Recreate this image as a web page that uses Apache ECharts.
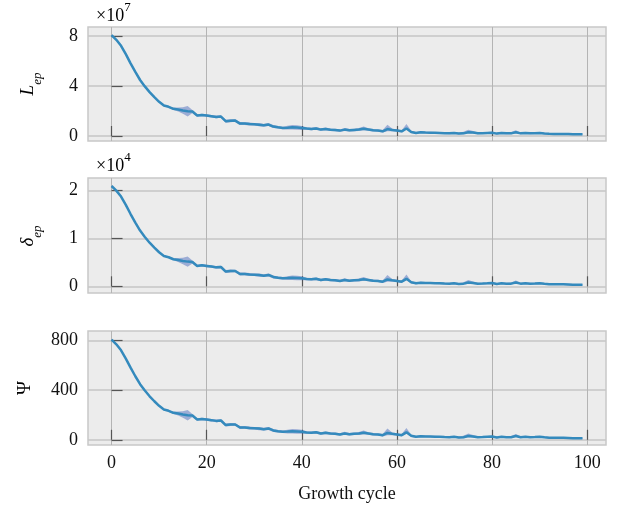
<!DOCTYPE html>
<html><head><meta charset="utf-8">
<script src="https://cdn.jsdelivr.net/npm/echarts@6/dist/echarts.min.js"></script>
<style>html,body{margin:0;padding:0;background:#fff}#c{width:622px;height:506px}</style>
</head><body><div id="c"></div>
<script>
// x values: growth cycle index
const cycles = Array.from({length: 100}, (_, i) => i);
const xTicks = [0, 20, 40, 60, 80, 100];

// L_ep (units of 1e7)
const lepMean = [8.05,7.68,7.20,6.53,5.80,5.11,4.47,3.96,3.50,3.10,2.73,2.43,2.33,2.17,2.11,2.03,1.98,1.95,1.63,1.68,
1.63,1.58,1.52,1.55,1.18,1.22,1.23,0.99,0.99,0.95,0.93,0.90,0.85,0.91,0.75,0.69,0.64,0.66,0.69,0.67,
0.64,0.59,0.56,0.60,0.51,0.56,0.50,0.48,0.43,0.51,0.45,0.48,0.51,0.57,0.51,0.45,0.43,0.37,0.55,0.48,
0.43,0.37,0.60,0.32,0.24,0.29,0.27,0.26,0.25,0.24,0.22,0.21,0.24,0.19,0.21,0.30,0.27,0.21,0.22,0.24,
0.26,0.19,0.24,0.21,0.21,0.30,0.21,0.24,0.21,0.22,0.24,0.20,0.17,0.16,0.16,0.16,0.15,0.13,0.13,0.13];
const lepDown = [0.03,0.04,0.04,0.04,0.04,0.04,0.04,0.04,0.04,0.05,0.05,
0.06,0.07,0.09,0.16,0.26,0.42,0.12,0.09,0.10,
0.10,0.10,0.11,0.10,0.12,0.12,0.10,0.12,0.11,0.12,
0.10,0.13,0.11,0.12,0.12,0.10,0.10,0.15,0.18,0.18,
0.16,0.10,0.10,0.11,0.10,0.11,0.10,0.10,0.09,0.11,
0.10,0.10,0.12,0.12,0.10,0.10,0.09,0.10,0.18,0.11,
0.09,0.09,0.09,0.09,0.07,0.08,0.07,0.07,0.07,0.07,
0.07,0.07,0.07,0.07,0.08,0.09,0.08,0.07,0.07,0.07,
0.07,0.07,0.07,0.07,0.07,0.08,0.07,0.07,0.07,0.07,
0.07,0.06,0.06,0.06,0.06,0.06,0.06,0.06,0.06,0.06];
const lepUp = [0.03,0.04,0.04,0.04,0.04,0.04,0.04,0.04,0.04,0.05,0.05,
0.06,0.07,0.09,0.16,0.26,0.42,0.12,0.09,0.10,
0.10,0.10,0.11,0.10,0.12,0.12,0.10,0.12,0.11,0.12,
0.10,0.13,0.11,0.12,0.12,0.10,0.10,0.15,0.18,0.18,
0.16,0.10,0.10,0.11,0.10,0.11,0.10,0.10,0.09,0.13,
0.10,0.10,0.12,0.18,0.10,0.10,0.09,0.10,0.35,0.11,
0.09,0.09,0.35,0.09,0.07,0.08,0.07,0.07,0.07,0.07,
0.07,0.07,0.07,0.07,0.12,0.20,0.12,0.07,0.07,0.07,
0.07,0.07,0.07,0.07,0.10,0.16,0.07,0.07,0.07,0.07,
0.07,0.06,0.06,0.06,0.06,0.06,0.06,0.06,0.06,0.06];

// delta_ep (units of 1e4)
const depMean = [2.093,1.997,1.872,1.698,1.508,1.329,1.162,1.030,0.910,0.806,0.710,0.632,0.606,0.564,0.549,0.528,0.515,0.507,0.424,0.437,
0.424,0.411,0.395,0.403,0.307,0.317,0.320,0.257,0.257,0.247,0.242,0.234,0.221,0.237,0.195,0.179,0.166,0.172,0.179,0.174,
0.166,0.153,0.146,0.156,0.133,0.146,0.130,0.125,0.112,0.133,0.117,0.125,0.133,0.148,0.133,0.117,0.112,0.096,0.143,0.125,
0.112,0.096,0.156,0.083,0.062,0.075,0.070,0.068,0.065,0.062,0.057,0.055,0.062,0.049,0.055,0.078,0.070,0.055,0.057,0.062,
0.068,0.049,0.062,0.055,0.055,0.078,0.055,0.062,0.055,0.057,0.062,0.052,0.044,0.042,0.042,0.042,0.039,0.034,0.034,0.034];
const depDown = [0.008,0.010,0.010,0.010,0.010,0.010,0.010,0.010,0.010,0.013,0.013,
0.016,0.018,0.023,0.042,0.068,0.109,0.031,0.023,0.026,
0.026,0.026,0.029,0.026,0.031,0.031,0.026,0.031,0.029,0.031,
0.026,0.034,0.029,0.031,0.031,0.026,0.026,0.039,0.047,0.047,
0.042,0.026,0.026,0.029,0.026,0.029,0.026,0.026,0.023,0.029,
0.026,0.026,0.031,0.031,0.026,0.026,0.023,0.026,0.047,0.029,
0.023,0.023,0.023,0.023,0.018,0.021,0.018,0.018,0.018,0.018,
0.018,0.018,0.018,0.018,0.021,0.023,0.021,0.018,0.018,0.018,
0.018,0.018,0.018,0.018,0.018,0.021,0.018,0.018,0.018,0.018,
0.018,0.016,0.016,0.016,0.016,0.016,0.016,0.016,0.016,0.016];
const depUp = [0.008,0.010,0.010,0.010,0.010,0.010,0.010,0.010,0.010,0.013,0.013,
0.016,0.018,0.023,0.042,0.068,0.109,0.031,0.023,0.026,
0.026,0.026,0.029,0.026,0.031,0.031,0.026,0.031,0.029,0.031,
0.026,0.034,0.029,0.031,0.031,0.026,0.026,0.039,0.047,0.047,
0.042,0.026,0.026,0.029,0.026,0.029,0.026,0.026,0.023,0.034,
0.026,0.026,0.031,0.047,0.026,0.026,0.023,0.026,0.091,0.029,
0.023,0.023,0.091,0.023,0.018,0.021,0.018,0.018,0.018,0.018,
0.018,0.018,0.018,0.018,0.031,0.052,0.031,0.018,0.018,0.018,
0.018,0.018,0.018,0.018,0.026,0.042,0.018,0.018,0.018,0.018,
0.018,0.016,0.016,0.016,0.016,0.016,0.016,0.016,0.016,0.016];

// Psi
const psiMean = [805,768,720,653,580,511,447,396,350,310,273,243,233,217,211,203,198,195,163,168,
163,158,152,155,118,122,123,99,99,95,93,90,85,91,75,69,64,66,69,67,
64,59,56,60,51,56,50,48,43,51,45,48,51,57,51,45,43,37,55,48,
43,37,60,32,24,29,27,26,25,24,22,21,24,19,21,30,27,21,22,24,
26,19,24,21,21,30,21,24,21,22,24,20,17,16,16,16,15,13,13,13];
const psiDown = [3,4,4,4,4,4,4,4,4,5,5,
6,7,9,16,26,42,12,9,10,
10,10,11,10,12,12,10,12,11,12,
10,13,11,12,12,10,10,15,18,18,
16,10,10,11,10,11,10,10,9,11,
10,10,12,12,10,10,9,10,18,11,
9,9,9,9,7,8,7,7,7,7,
7,7,7,7,8,9,8,7,7,7,
7,7,7,7,7,8,7,7,7,7,
7,6,6,6,6,6,6,6,6,6];
const psiUp = [3,4,4,4,4,4,4,4,4,5,5,
6,7,9,16,26,42,12,9,10,
10,10,11,10,12,12,10,12,11,12,
10,13,11,12,12,10,10,15,18,18,
16,10,10,11,10,11,10,10,9,13,
10,10,12,18,10,10,9,10,35,11,
9,9,35,9,7,8,7,7,7,7,
7,7,7,7,12,20,12,7,7,7,
7,7,7,7,10,16,7,7,7,7,
7,6,6,6,6,6,6,6,6,6];

const panels = [
  {mean: lepMean, down: lepDown, up: lepUp, min: -0.4, max: 8.7, ticks: [0, 4, 8]},
  {mean: depMean, down: depDown, up: depUp, min: -0.14, max: 2.26, ticks: [0, 1, 2]},
  {mean: psiMean, down: psiDown, up: psiUp, min: -42, max: 875, ticks: [0, 400, 800]}
];

const FONT = '"Liberation Serif", "DejaVu Serif", serif';
const LINE = '#348ABD';
const BAND = 'rgba(40,80,180,0.40)';
const gridTops = [27, 178, 331];
const gridH = [114, 115, 114];

const grids = [], xAxes = [], yAxes = [], series = [];
panels.forEach((p, k) => {
  grids.push({left: 88, top: gridTops[k], width: 518, height: gridH[k], show: true,
    backgroundColor: '#ececec', borderColor: '#c8c8c8', borderWidth: 1.5});
  xAxes.push({type: 'value', gridIndex: k, min: -4.95, max: 103.95,
    axisLine: {show: false},
    axisTick: {show: true, inside: true, length: 10, customValues: xTicks, lineStyle: {color: '#555', width: 1.2}},
    axisLabel: {show: k === 2, customValues: xTicks, margin: 9, color: '#111', fontFamily: FONT, fontSize: 18},
    splitLine: {show: true, lineStyle: {color: '#b4b4b4', width: 1}},
    name: k === 2 ? 'Growth cycle' : '', nameLocation: 'middle', nameGap: 40,
    nameTextStyle: {color: '#111', fontFamily: FONT, fontSize: 18}
  });
  yAxes.push({type: 'value', gridIndex: k, min: p.min, max: p.max,
    axisLine: {show: false},
    axisTick: {show: true, inside: true, length: 11, customValues: p.ticks, lineStyle: {color: '#555', width: 1.2}},
    axisLabel: {customValues: p.ticks, margin: 10, color: '#111', fontFamily: FONT, fontSize: 18},
    splitLine: {show: true, lineStyle: {color: '#c6c6c6', width: 1.5}}
  });
  series.push({
    type: 'custom', xAxisIndex: k, yAxisIndex: k, data: [[0, 0]], silent: true, z: 2,
    renderItem: function (params, api) {
      const pts = [];
      for (let i = 0; i < cycles.length; i++) pts.push(api.coord([cycles[i], p.mean[i] + p.up[i]]));
      for (let i = cycles.length - 1; i >= 0; i--) pts.push(api.coord([cycles[i], p.mean[i] - p.down[i]]));
      return {type: 'polygon', shape: {points: pts}, style: {fill: BAND, stroke: null}};
    }
  });
  series.push({
    type: 'line', xAxisIndex: k, yAxisIndex: k, showSymbol: false, symbol: 'none', z: 3,
    data: cycles.map((x, i) => [x, p.mean[i]]),
    lineStyle: {color: LINE, width: 2.5}, itemStyle: {color: LINE}, animation: false
  });
});

const richMult = {
  a: {fontFamily: FONT, fontSize: 18, color: '#111', lineHeight: 24, verticalAlign: 'bottom'},
  b: {fontFamily: FONT, fontSize: 13, color: '#111', lineHeight: 24, verticalAlign: 'top'}
};
const richName = {
  i: {fontFamily: FONT, fontSize: 19, fontStyle: 'italic', color: '#111', lineHeight: 26, verticalAlign: 'top'},
  s: {fontFamily: FONT, fontSize: 13, fontStyle: 'italic', color: '#111', lineHeight: 26, verticalAlign: 'bottom'},
  u: {fontFamily: FONT, fontSize: 19, color: '#111', lineHeight: 26}
};

const chart = echarts.init(document.getElementById('c'), null, {renderer: 'canvas'});
chart.setOption({
  animation: false,
  grid: grids, xAxis: xAxes, yAxis: yAxes, series: series,
  graphic: [
    {type: 'text', left: 96, top: 1, style: {text: '{a|×10}{b|7}', rich: richMult}},
    {type: 'text', left: 96, top: 151, style: {text: '{a|×10}{b|4}', rich: richMult}},
    {type: 'text', x: 31, y: 84, rotation: Math.PI / 2,
      style: {text: '{i|L}{s|ep}', rich: richName, align: 'center', verticalAlign: 'middle'}},
    {type: 'text', x: 31, y: 236, rotation: Math.PI / 2,
      style: {text: '{i|δ}{s|ep}', rich: richName, align: 'center', verticalAlign: 'middle'}},
    {type: 'text', x: 25, y: 388, rotation: Math.PI / 2,
      style: {text: '{u|Ψ}', rich: richName, align: 'center', verticalAlign: 'middle'}}
  ]
});
</script>
</body></html>
